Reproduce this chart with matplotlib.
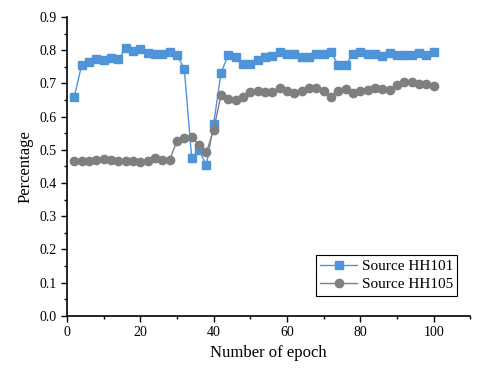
import numpy as np
import matplotlib.pyplot as plt
from matplotlib.ticker import MultipleLocator

plt.rcParams['font.family'] = ['Liberation Serif', 'DejaVu Serif']

epochs = list(range(2, 101, 2))

hh101 = [0.660, 0.755, 0.765, 0.772, 0.770, 0.776, 0.772, 0.805, 0.798, 0.802,
         0.791, 0.788, 0.788, 0.793, 0.786, 0.743, 0.476, 0.500, 0.453, 0.578,
         0.732, 0.786, 0.778, 0.758, 0.757, 0.771, 0.779, 0.783, 0.793, 0.788,
         0.787, 0.778, 0.778, 0.788, 0.788, 0.793, 0.755, 0.755, 0.789, 0.794,
         0.788, 0.788, 0.783, 0.791, 0.786, 0.785, 0.785, 0.790, 0.786, 0.793]

hh105 = [0.467, 0.467, 0.465, 0.470, 0.471, 0.468, 0.466, 0.467, 0.465, 0.463,
         0.465, 0.474, 0.468, 0.470, 0.527, 0.536, 0.539, 0.514, 0.492, 0.560,
         0.665, 0.652, 0.651, 0.658, 0.675, 0.677, 0.673, 0.675, 0.687, 0.678,
         0.672, 0.678, 0.686, 0.686, 0.677, 0.660, 0.676, 0.684, 0.671, 0.678,
         0.681, 0.686, 0.683, 0.679, 0.694, 0.704, 0.704, 0.697, 0.697, 0.692]

fig = plt.figure(figsize=(4.98, 3.76), dpi=100)
ax = fig.add_axes([0.1345, 0.160, 0.81, 0.795])

ax.plot(epochs, hh101, '-s', color='#4f94d9', lw=1.0, ms=5.5, label='Source HH101')
ax.plot(epochs, hh105, '-o', color='#7f7f7f', lw=1.0, ms=6, label='Source HH105')

ax.set_xlim(0, 110)
ax.set_ylim(0, 0.9)
ax.xaxis.set_major_locator(MultipleLocator(20))
ax.xaxis.set_minor_locator(MultipleLocator(10))
ax.yaxis.set_major_locator(MultipleLocator(0.1))
ax.yaxis.set_minor_locator(MultipleLocator(0.05))
ax.yaxis.set_major_formatter(plt.FuncFormatter(lambda v, p: f'{v:.1f}'))
ax.tick_params(which='both', direction='out', width=1, labelsize=10)
ax.tick_params(which='major', length=4)
ax.tick_params(which='minor', length=2.5)

ax.spines['top'].set_visible(False)
ax.spines['right'].set_visible(False)
ax.spines['left'].set_linewidth(1.2)
ax.spines['bottom'].set_linewidth(1.2)

ax.set_xlabel('Number of epoch', fontsize=12)
ax.set_ylabel('Percentage', fontsize=12)

leg = ax.legend(loc='lower right', bbox_to_anchor=(0.968, 0.067), borderaxespad=0,
                fontsize=11, fancybox=False, edgecolor='black', framealpha=1,
                handlelength=2.4, handletextpad=0.3, borderpad=0.3, labelspacing=0.3)
leg.get_frame().set_linewidth(0.8)

fig.savefig('out.png', dpi=100)
